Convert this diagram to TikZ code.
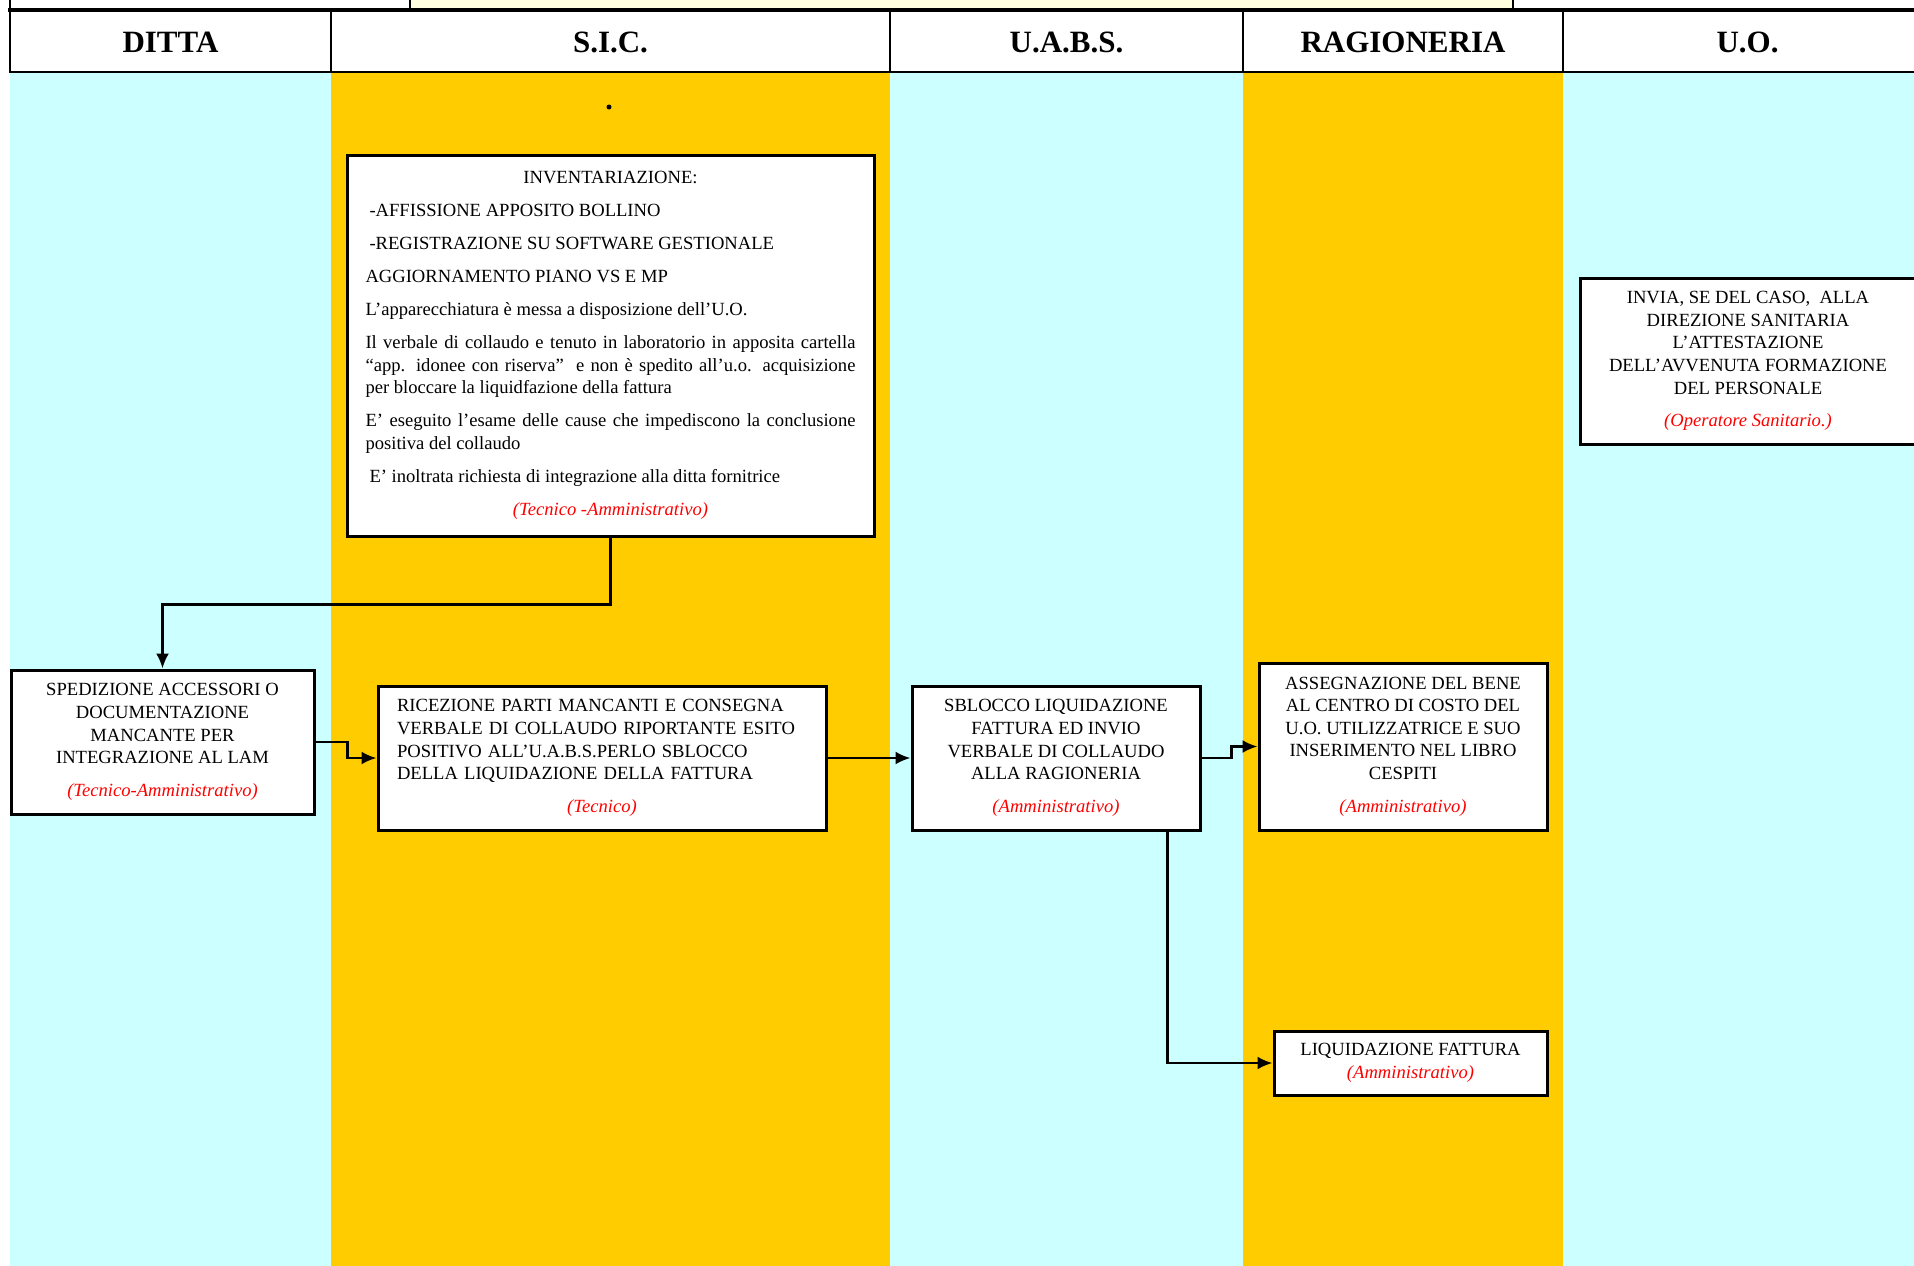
\documentclass[tikz,border=0pt]{standalone}
\usepackage{fontspec}
\setmainfont{Liberation Serif}
\usetikzlibrary{arrows.meta}
\definecolor{azzurro}{HTML}{CCFFFF}
\definecolor{arancio}{HTML}{FFCC00}
\definecolor{crema}{HTML}{FFFFE0}
\newcommand{\ruolo}[1]{{\color{red}\itshape #1}}
\tikzset{
  head/.style={inner sep=0pt,font=\fontsize{31}{31}\selectfont\bfseries},
  box/.style={draw,line width=3pt,fill=white,inner sep=0pt,align=center,
    font=\fontsize{18.6}{22.6}\selectfont},
  flow/.style={-{Latex[length=15pt,width=13pt]},line width=2.5pt}
}
\begin{document}
\begin{tikzpicture}[x=1pt,y=-1pt]
\useasboundingbox (0,0) rectangle (1914,1266);
% corsie
\foreach \xa/\xb/\col in {10/331/azzurro,331/890/arancio,890/1243/azzurro,1243/1563/arancio,1563/1914/azzurro}
  {\fill[\col](\xa,72) rectangle (\xb,1266);}
% riga in alto
\fill[crema](410,0) rectangle (1513,10);
\draw[line width=2pt](410,0)--(410,10) (1513,0)--(1513,10) (10,0)--(10,12);
% intestazioni
\foreach \xa/\xb/\nome [count=\i] in {10/331/DITTA,331/890/S.I.C.,890/1243/U.A.B.S.,1243/1563/RAGIONERIA,1563/1932/U.O.}
  {\draw[line width=2.5pt,fill=white](\xa,11) rectangle (\xb,72);
   \node[head] (h\i) at ({(\xa+\xb)/2},42) {\nome};}
\draw[line width=4pt](8,10)--(1914,10);
\fill(609,107) circle (2.5);
% blocchi
\node[box,minimum width=527pt,minimum height=381pt,text width=490pt,align=justify] (inv) at (610.5,345.5)
  {\setlength{\parskip}{10.4pt}\hyphenpenalty=10000
   {\centering INVENTARIAZIONE:\par}
   \hspace*{4pt}-AFFISSIONE APPOSITO BOLLINO\par
   \hspace*{4pt}-REGISTRAZIONE SU SOFTWARE GESTIONALE\par
   AGGIORNAMENTO PIANO VS E MP\par
   L’apparecchiatura è messa a disposizione dell’U.O.\par
   Il verbale di collaudo e tenuto in laboratorio in apposita cartella\linebreak “app. idonee con riserva”\ \ e non è spedito all’u.o. acquisizione\linebreak per bloccare la liquidfazione della fattura\par
   E’ eseguito l’esame delle cause che impediscono la conclusione\linebreak positiva del collaudo\par
   \hspace*{4pt}E’ inoltrata richiesta di integrazione alla ditta fornitrice\par
   \makebox[\linewidth]{\ruolo{(Tecnico -Amministrativo)}}};
\node[box,minimum width=303pt,minimum height=144pt] (sped) at (162.5,742)
  {SPEDIZIONE ACCESSORI O\\ DOCUMENTAZIONE\\ MANCANTE PER\\ INTEGRAZIONE AL LAM\\[10pt]\ruolo{(Tecnico-Amministrativo)}};
\node[box,minimum width=448pt,minimum height=144pt,text width=410pt,align=left] (ric) at (602,758)
  {RICEZIONE PARTI MANCANTI E CONSEGNA\\ VERBALE DI COLLAUDO RIPORTANTE ESITO\\ POSITIVO ALL’U.A.B.S.PERLO SBLOCCO\\ DELLA LIQUIDAZIONE DELLA FATTURA\\[10pt]
   \makebox[\linewidth]{\ruolo{(Tecnico)}}};
\node[box,minimum width=288pt,minimum height=144pt] (sbl) at (1056,758)
  {SBLOCCO LIQUIDAZIONE\\ FATTURA ED INVIO\\ VERBALE DI COLLAUDO\\ ALLA RAGIONERIA\\[10pt]\ruolo{(Amministrativo)}};
\node[box,minimum width=288pt,minimum height=167pt] (ass) at (1403,746.5)
  {ASSEGNAZIONE DEL BENE\\ AL CENTRO DI COSTO DEL\\ U.O. UTILIZZATRICE E SUO\\ INSERIMENTO NEL LIBRO\\ CESPITI\\[10pt]\ruolo{(Amministrativo)}};
\node[box,minimum width=273pt,minimum height=64pt] (liq) at (1410.5,1063)
  {LIQUIDAZIONE FATTURA\\ \ruolo{(Amministrativo)}};
\node[box,minimum width=336pt,minimum height=166pt] (inf) at (1748,361)
  {INVIA, SE DEL CASO,\ \ ALLA\\ DIREZIONE SANITARIA\\ L’ATTESTAZIONE\\ DELL’AVVENUTA FORMAZIONE\\ DEL PERSONALE\\[10pt]\ruolo{(Operatore Sanitario.)}};
% collegamenti
\draw[flow](inv.south)--++(0,67)-|(sped.north);
\draw[flow](sped.east)--++(32,0)|-(ric.west);
\draw[flow](ric.east)--(sbl.west);
\draw[flow](sbl.east)--++(30,0)|-(ass.west);
\draw[flow]([xshift=-34pt]sbl.south east)|-(liq.west);
\end{tikzpicture}
\end{document}
